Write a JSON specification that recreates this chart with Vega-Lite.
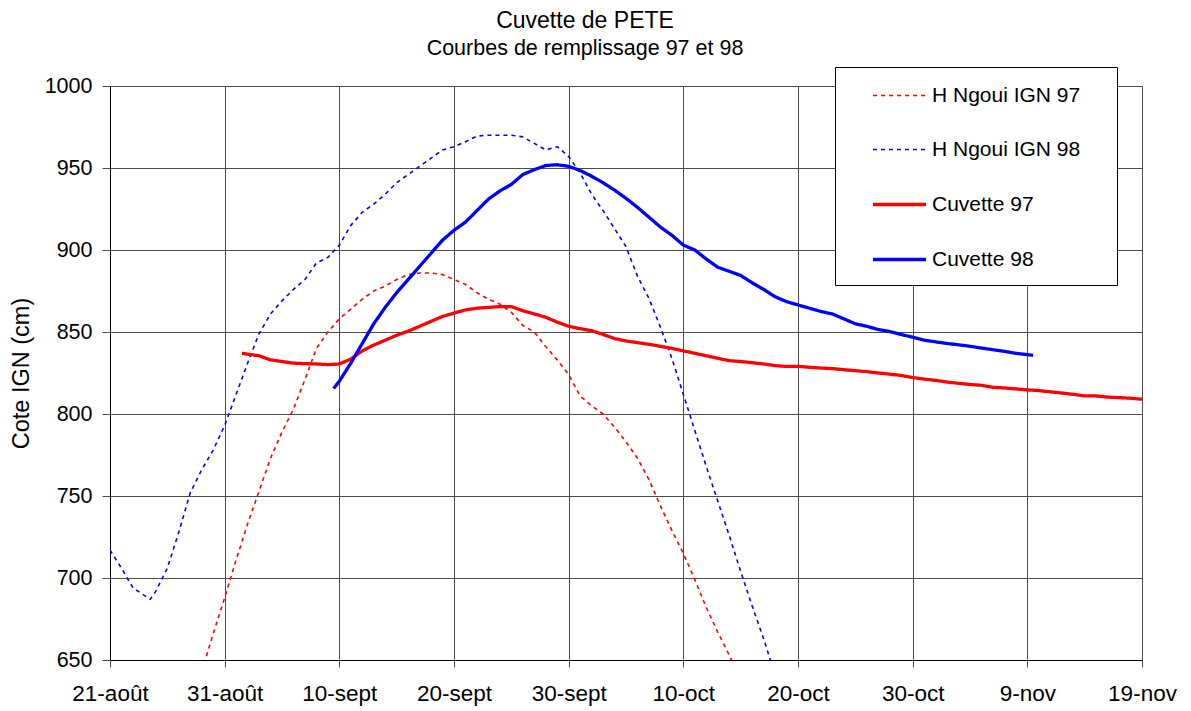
{
  "$schema": "https://vega.github.io/schema/vega-lite/v6.json",
  "width": 1032,
  "height": 574,
  "autosize": "none",
  "padding": {"left": 110, "top": 86, "right": 49, "bottom": 51},
  "background": "white",
  "config": {
    "font": "Liberation Sans",
    "view": {"stroke": null},
    "axis": {"labelFont": "Liberation Sans", "titleFont": "Liberation Sans", "labelColor": "black", "titleColor": "black", "titleFontWeight": "normal"},
    "legend": {"labelFont": "Liberation Sans", "labelColor": "black"}
  },
  "title": {
    "text": "Cuvette de PETE",
    "subtitle": "Courbes de remplissage 97 et 98",
    "font": "Liberation Sans",
    "subtitleFont": "Liberation Sans",
    "fontSize": 23,
    "fontWeight": "normal",
    "subtitleFontSize": 21.5,
    "color": "black",
    "subtitleColor": "black",
    "anchor": "middle",
    "dx": -41,
    "offset": 7,
    "subtitlePadding": 5
  },
  "data": {"values": [
    {"serie": "H Ngoui IGN 97", "date": "1998-08-29", "cote": 643},
    {"serie": "H Ngoui IGN 97", "date": "1998-08-30", "cote": 666},
    {"serie": "H Ngoui IGN 97", "date": "1998-08-31", "cote": 688},
    {"serie": "H Ngoui IGN 97", "date": "1998-09-01", "cote": 711},
    {"serie": "H Ngoui IGN 97", "date": "1998-09-02", "cote": 733},
    {"serie": "H Ngoui IGN 97", "date": "1998-09-03", "cote": 753},
    {"serie": "H Ngoui IGN 97", "date": "1998-09-04", "cote": 773},
    {"serie": "H Ngoui IGN 97", "date": "1998-09-05", "cote": 789},
    {"serie": "H Ngoui IGN 97", "date": "1998-09-06", "cote": 803},
    {"serie": "H Ngoui IGN 97", "date": "1998-09-07", "cote": 821},
    {"serie": "H Ngoui IGN 97", "date": "1998-09-08", "cote": 840},
    {"serie": "H Ngoui IGN 97", "date": "1998-09-09", "cote": 850},
    {"serie": "H Ngoui IGN 97", "date": "1998-09-10", "cote": 858},
    {"serie": "H Ngoui IGN 97", "date": "1998-09-11", "cote": 864},
    {"serie": "H Ngoui IGN 97", "date": "1998-09-12", "cote": 870},
    {"serie": "H Ngoui IGN 97", "date": "1998-09-13", "cote": 875},
    {"serie": "H Ngoui IGN 97", "date": "1998-09-14", "cote": 878},
    {"serie": "H Ngoui IGN 97", "date": "1998-09-15", "cote": 882},
    {"serie": "H Ngoui IGN 97", "date": "1998-09-16", "cote": 885},
    {"serie": "H Ngoui IGN 97", "date": "1998-09-17", "cote": 886},
    {"serie": "H Ngoui IGN 97", "date": "1998-09-18", "cote": 886},
    {"serie": "H Ngoui IGN 97", "date": "1998-09-19", "cote": 885},
    {"serie": "H Ngoui IGN 97", "date": "1998-09-20", "cote": 882},
    {"serie": "H Ngoui IGN 97", "date": "1998-09-21", "cote": 879},
    {"serie": "H Ngoui IGN 97", "date": "1998-09-22", "cote": 874},
    {"serie": "H Ngoui IGN 97", "date": "1998-09-23", "cote": 870},
    {"serie": "H Ngoui IGN 97", "date": "1998-09-24", "cote": 867},
    {"serie": "H Ngoui IGN 97", "date": "1998-09-25", "cote": 862},
    {"serie": "H Ngoui IGN 97", "date": "1998-09-26", "cote": 854},
    {"serie": "H Ngoui IGN 97", "date": "1998-09-27", "cote": 850},
    {"serie": "H Ngoui IGN 97", "date": "1998-09-28", "cote": 841},
    {"serie": "H Ngoui IGN 97", "date": "1998-09-29", "cote": 833},
    {"serie": "H Ngoui IGN 97", "date": "1998-09-30", "cote": 824},
    {"serie": "H Ngoui IGN 97", "date": "1998-10-01", "cote": 811},
    {"serie": "H Ngoui IGN 97", "date": "1998-10-02", "cote": 805},
    {"serie": "H Ngoui IGN 97", "date": "1998-10-03", "cote": 800},
    {"serie": "H Ngoui IGN 97", "date": "1998-10-04", "cote": 792},
    {"serie": "H Ngoui IGN 97", "date": "1998-10-05", "cote": 783},
    {"serie": "H Ngoui IGN 97", "date": "1998-10-06", "cote": 773},
    {"serie": "H Ngoui IGN 97", "date": "1998-10-07", "cote": 760},
    {"serie": "H Ngoui IGN 97", "date": "1998-10-08", "cote": 744},
    {"serie": "H Ngoui IGN 97", "date": "1998-10-09", "cote": 729},
    {"serie": "H Ngoui IGN 97", "date": "1998-10-10", "cote": 715},
    {"serie": "H Ngoui IGN 97", "date": "1998-10-11", "cote": 699},
    {"serie": "H Ngoui IGN 97", "date": "1998-10-12", "cote": 682},
    {"serie": "H Ngoui IGN 97", "date": "1998-10-13", "cote": 667},
    {"serie": "H Ngoui IGN 97", "date": "1998-10-14", "cote": 653},
    {"serie": "H Ngoui IGN 97", "date": "1998-10-15", "cote": 638},

    {"serie": "H Ngoui IGN 98", "date": "1998-08-21", "cote": 717},
    {"serie": "H Ngoui IGN 98", "date": "1998-08-22", "cote": 706},
    {"serie": "H Ngoui IGN 98", "date": "1998-08-23", "cote": 694},
    {"serie": "H Ngoui IGN 98", "date": "1998-08-24T12:00:00Z", "cote": 687},
    {"serie": "H Ngoui IGN 98", "date": "1998-08-25", "cote": 692},
    {"serie": "H Ngoui IGN 98", "date": "1998-08-26", "cote": 706},
    {"serie": "H Ngoui IGN 98", "date": "1998-08-27", "cote": 728},
    {"serie": "H Ngoui IGN 98", "date": "1998-08-28", "cote": 752},
    {"serie": "H Ngoui IGN 98", "date": "1998-08-29", "cote": 766},
    {"serie": "H Ngoui IGN 98", "date": "1998-08-30", "cote": 778},
    {"serie": "H Ngoui IGN 98", "date": "1998-08-31", "cote": 793},
    {"serie": "H Ngoui IGN 98", "date": "1998-09-01", "cote": 812},
    {"serie": "H Ngoui IGN 98", "date": "1998-09-02", "cote": 831},
    {"serie": "H Ngoui IGN 98", "date": "1998-09-03", "cote": 849},
    {"serie": "H Ngoui IGN 98", "date": "1998-09-04", "cote": 861},
    {"serie": "H Ngoui IGN 98", "date": "1998-09-05", "cote": 869},
    {"serie": "H Ngoui IGN 98", "date": "1998-09-06", "cote": 876},
    {"serie": "H Ngoui IGN 98", "date": "1998-09-07", "cote": 882},
    {"serie": "H Ngoui IGN 98", "date": "1998-09-08", "cote": 892},
    {"serie": "H Ngoui IGN 98", "date": "1998-09-09", "cote": 895.5},
    {"serie": "H Ngoui IGN 98", "date": "1998-09-10", "cote": 903},
    {"serie": "H Ngoui IGN 98", "date": "1998-09-11", "cote": 915},
    {"serie": "H Ngoui IGN 98", "date": "1998-09-12", "cote": 923},
    {"serie": "H Ngoui IGN 98", "date": "1998-09-13", "cote": 928},
    {"serie": "H Ngoui IGN 98", "date": "1998-09-14", "cote": 934},
    {"serie": "H Ngoui IGN 98", "date": "1998-09-15", "cote": 941},
    {"serie": "H Ngoui IGN 98", "date": "1998-09-16", "cote": 946},
    {"serie": "H Ngoui IGN 98", "date": "1998-09-17", "cote": 951},
    {"serie": "H Ngoui IGN 98", "date": "1998-09-18", "cote": 956},
    {"serie": "H Ngoui IGN 98", "date": "1998-09-19", "cote": 961},
    {"serie": "H Ngoui IGN 98", "date": "1998-09-20", "cote": 963},
    {"serie": "H Ngoui IGN 98", "date": "1998-09-21", "cote": 966},
    {"serie": "H Ngoui IGN 98", "date": "1998-09-22", "cote": 969.5},
    {"serie": "H Ngoui IGN 98", "date": "1998-09-23", "cote": 970},
    {"serie": "H Ngoui IGN 98", "date": "1998-09-24", "cote": 970},
    {"serie": "H Ngoui IGN 98", "date": "1998-09-25", "cote": 970},
    {"serie": "H Ngoui IGN 98", "date": "1998-09-26", "cote": 969},
    {"serie": "H Ngoui IGN 98", "date": "1998-09-27", "cote": 965},
    {"serie": "H Ngoui IGN 98", "date": "1998-09-28", "cote": 961},
    {"serie": "H Ngoui IGN 98", "date": "1998-09-29", "cote": 963},
    {"serie": "H Ngoui IGN 98", "date": "1998-09-30", "cote": 957},
    {"serie": "H Ngoui IGN 98", "date": "1998-10-01", "cote": 947},
    {"serie": "H Ngoui IGN 98", "date": "1998-10-02", "cote": 934},
    {"serie": "H Ngoui IGN 98", "date": "1998-10-03", "cote": 924},
    {"serie": "H Ngoui IGN 98", "date": "1998-10-04", "cote": 913},
    {"serie": "H Ngoui IGN 98", "date": "1998-10-05", "cote": 902},
    {"serie": "H Ngoui IGN 98", "date": "1998-10-06", "cote": 884},
    {"serie": "H Ngoui IGN 98", "date": "1998-10-07", "cote": 870.5},
    {"serie": "H Ngoui IGN 98", "date": "1998-10-08", "cote": 853},
    {"serie": "H Ngoui IGN 98", "date": "1998-10-09", "cote": 834},
    {"serie": "H Ngoui IGN 98", "date": "1998-10-10", "cote": 812},
    {"serie": "H Ngoui IGN 98", "date": "1998-10-11", "cote": 790},
    {"serie": "H Ngoui IGN 98", "date": "1998-10-12", "cote": 768},
    {"serie": "H Ngoui IGN 98", "date": "1998-10-13", "cote": 747},
    {"serie": "H Ngoui IGN 98", "date": "1998-10-14", "cote": 726},
    {"serie": "H Ngoui IGN 98", "date": "1998-10-15", "cote": 704},
    {"serie": "H Ngoui IGN 98", "date": "1998-10-16", "cote": 683},
    {"serie": "H Ngoui IGN 98", "date": "1998-10-17", "cote": 663},
    {"serie": "H Ngoui IGN 98", "date": "1998-10-18", "cote": 641},

    {"serie": "Cuvette 97", "date": "1998-09-01T12:00:00Z", "cote": 837},
    {"serie": "Cuvette 97", "date": "1998-09-02", "cote": 836.5},
    {"serie": "Cuvette 97", "date": "1998-09-03", "cote": 835.5},
    {"serie": "Cuvette 97", "date": "1998-09-04", "cote": 833},
    {"serie": "Cuvette 97", "date": "1998-09-05", "cote": 832},
    {"serie": "Cuvette 97", "date": "1998-09-06", "cote": 831},
    {"serie": "Cuvette 97", "date": "1998-09-07", "cote": 830.7},
    {"serie": "Cuvette 97", "date": "1998-09-08", "cote": 830.5},
    {"serie": "Cuvette 97", "date": "1998-09-09", "cote": 830.1},
    {"serie": "Cuvette 97", "date": "1998-09-10", "cote": 830.5},
    {"serie": "Cuvette 97", "date": "1998-09-11", "cote": 833.5},
    {"serie": "Cuvette 97", "date": "1998-09-12", "cote": 838.5},
    {"serie": "Cuvette 97", "date": "1998-09-13", "cote": 842},
    {"serie": "Cuvette 97", "date": "1998-09-14", "cote": 845},
    {"serie": "Cuvette 97", "date": "1998-09-15", "cote": 848},
    {"serie": "Cuvette 97", "date": "1998-09-16", "cote": 850.5},
    {"serie": "Cuvette 97", "date": "1998-09-17", "cote": 853.5},
    {"serie": "Cuvette 97", "date": "1998-09-18", "cote": 856.5},
    {"serie": "Cuvette 97", "date": "1998-09-19", "cote": 859.5},
    {"serie": "Cuvette 97", "date": "1998-09-20", "cote": 861.5},
    {"serie": "Cuvette 97", "date": "1998-09-21", "cote": 863.5},
    {"serie": "Cuvette 97", "date": "1998-09-22", "cote": 864.5},
    {"serie": "Cuvette 97", "date": "1998-09-23", "cote": 865},
    {"serie": "Cuvette 97", "date": "1998-09-24", "cote": 865.5},
    {"serie": "Cuvette 97", "date": "1998-09-25", "cote": 865.5},
    {"serie": "Cuvette 97", "date": "1998-09-26", "cote": 863},
    {"serie": "Cuvette 97", "date": "1998-09-27", "cote": 861},
    {"serie": "Cuvette 97", "date": "1998-09-28", "cote": 859},
    {"serie": "Cuvette 97", "date": "1998-09-29", "cote": 856},
    {"serie": "Cuvette 97", "date": "1998-09-30", "cote": 853.5},
    {"serie": "Cuvette 97", "date": "1998-10-01", "cote": 852},
    {"serie": "Cuvette 97", "date": "1998-10-02", "cote": 850.8},
    {"serie": "Cuvette 97", "date": "1998-10-03", "cote": 848.5},
    {"serie": "Cuvette 97", "date": "1998-10-04", "cote": 846},
    {"serie": "Cuvette 97", "date": "1998-10-05", "cote": 844.5},
    {"serie": "Cuvette 97", "date": "1998-10-06", "cote": 843.5},
    {"serie": "Cuvette 97", "date": "1998-10-07", "cote": 842.5},
    {"serie": "Cuvette 97", "date": "1998-10-08", "cote": 841.3},
    {"serie": "Cuvette 97", "date": "1998-10-09", "cote": 840},
    {"serie": "Cuvette 97", "date": "1998-10-10", "cote": 838.5},
    {"serie": "Cuvette 97", "date": "1998-10-11", "cote": 837},
    {"serie": "Cuvette 97", "date": "1998-10-12", "cote": 835.5},
    {"serie": "Cuvette 97", "date": "1998-10-13", "cote": 834},
    {"serie": "Cuvette 97", "date": "1998-10-14", "cote": 832.5},
    {"serie": "Cuvette 97", "date": "1998-10-15", "cote": 832},
    {"serie": "Cuvette 97", "date": "1998-10-16", "cote": 831.3},
    {"serie": "Cuvette 97", "date": "1998-10-17", "cote": 830.5},
    {"serie": "Cuvette 97", "date": "1998-10-18", "cote": 829.5},
    {"serie": "Cuvette 97", "date": "1998-10-19", "cote": 829},
    {"serie": "Cuvette 97", "date": "1998-10-20", "cote": 829.1},
    {"serie": "Cuvette 97", "date": "1998-10-21", "cote": 828.5},
    {"serie": "Cuvette 97", "date": "1998-10-22", "cote": 828},
    {"serie": "Cuvette 97", "date": "1998-10-23", "cote": 827.7},
    {"serie": "Cuvette 97", "date": "1998-10-24", "cote": 827},
    {"serie": "Cuvette 97", "date": "1998-10-25", "cote": 826.4},
    {"serie": "Cuvette 97", "date": "1998-10-26", "cote": 825.8},
    {"serie": "Cuvette 97", "date": "1998-10-27", "cote": 825},
    {"serie": "Cuvette 97", "date": "1998-10-28", "cote": 824.3},
    {"serie": "Cuvette 97", "date": "1998-10-29", "cote": 823.5},
    {"serie": "Cuvette 97", "date": "1998-10-30", "cote": 822.2},
    {"serie": "Cuvette 97", "date": "1998-10-31", "cote": 821.3},
    {"serie": "Cuvette 97", "date": "1998-11-01", "cote": 820.5},
    {"serie": "Cuvette 97", "date": "1998-11-02", "cote": 819.5},
    {"serie": "Cuvette 97", "date": "1998-11-03", "cote": 818.7},
    {"serie": "Cuvette 97", "date": "1998-11-04", "cote": 818},
    {"serie": "Cuvette 97", "date": "1998-11-05", "cote": 817.5},
    {"serie": "Cuvette 97", "date": "1998-11-06", "cote": 816.3},
    {"serie": "Cuvette 97", "date": "1998-11-07", "cote": 815.9},
    {"serie": "Cuvette 97", "date": "1998-11-08", "cote": 815.3},
    {"serie": "Cuvette 97", "date": "1998-11-09", "cote": 814.7},
    {"serie": "Cuvette 97", "date": "1998-11-10", "cote": 814.3},
    {"serie": "Cuvette 97", "date": "1998-11-11", "cote": 813.5},
    {"serie": "Cuvette 97", "date": "1998-11-12", "cote": 812.8},
    {"serie": "Cuvette 97", "date": "1998-11-13", "cote": 812},
    {"serie": "Cuvette 97", "date": "1998-11-14", "cote": 811},
    {"serie": "Cuvette 97", "date": "1998-11-15", "cote": 811},
    {"serie": "Cuvette 97", "date": "1998-11-16", "cote": 810.3},
    {"serie": "Cuvette 97", "date": "1998-11-17", "cote": 810},
    {"serie": "Cuvette 97", "date": "1998-11-18", "cote": 809.6},
    {"serie": "Cuvette 97", "date": "1998-11-19", "cote": 809},

    {"serie": "Cuvette 98", "date": "1998-09-09T12:00:00Z", "cote": 815.5},
    {"serie": "Cuvette 98", "date": "1998-09-10", "cote": 820},
    {"serie": "Cuvette 98", "date": "1998-09-11", "cote": 831},
    {"serie": "Cuvette 98", "date": "1998-09-12", "cote": 843},
    {"serie": "Cuvette 98", "date": "1998-09-13", "cote": 855},
    {"serie": "Cuvette 98", "date": "1998-09-14", "cote": 865},
    {"serie": "Cuvette 98", "date": "1998-09-15", "cote": 874},
    {"serie": "Cuvette 98", "date": "1998-09-16", "cote": 882},
    {"serie": "Cuvette 98", "date": "1998-09-17", "cote": 890},
    {"serie": "Cuvette 98", "date": "1998-09-18", "cote": 898},
    {"serie": "Cuvette 98", "date": "1998-09-19", "cote": 906},
    {"serie": "Cuvette 98", "date": "1998-09-20", "cote": 912},
    {"serie": "Cuvette 98", "date": "1998-09-21", "cote": 917},
    {"serie": "Cuvette 98", "date": "1998-09-22", "cote": 924},
    {"serie": "Cuvette 98", "date": "1998-09-23", "cote": 931},
    {"serie": "Cuvette 98", "date": "1998-09-24", "cote": 936},
    {"serie": "Cuvette 98", "date": "1998-09-25", "cote": 940},
    {"serie": "Cuvette 98", "date": "1998-09-26", "cote": 946},
    {"serie": "Cuvette 98", "date": "1998-09-27", "cote": 949},
    {"serie": "Cuvette 98", "date": "1998-09-28", "cote": 951.5},
    {"serie": "Cuvette 98", "date": "1998-09-29", "cote": 952},
    {"serie": "Cuvette 98", "date": "1998-09-30", "cote": 951},
    {"serie": "Cuvette 98", "date": "1998-10-01", "cote": 948.5},
    {"serie": "Cuvette 98", "date": "1998-10-02", "cote": 945},
    {"serie": "Cuvette 98", "date": "1998-10-03", "cote": 941},
    {"serie": "Cuvette 98", "date": "1998-10-04", "cote": 936.5},
    {"serie": "Cuvette 98", "date": "1998-10-05", "cote": 931.5},
    {"serie": "Cuvette 98", "date": "1998-10-06", "cote": 926},
    {"serie": "Cuvette 98", "date": "1998-10-07", "cote": 920},
    {"serie": "Cuvette 98", "date": "1998-10-08", "cote": 914},
    {"serie": "Cuvette 98", "date": "1998-10-09", "cote": 909},
    {"serie": "Cuvette 98", "date": "1998-10-10", "cote": 903},
    {"serie": "Cuvette 98", "date": "1998-10-11", "cote": 900},
    {"serie": "Cuvette 98", "date": "1998-10-12", "cote": 894.5},
    {"serie": "Cuvette 98", "date": "1998-10-13", "cote": 889.5},
    {"serie": "Cuvette 98", "date": "1998-10-14", "cote": 887},
    {"serie": "Cuvette 98", "date": "1998-10-15", "cote": 884.5},
    {"serie": "Cuvette 98", "date": "1998-10-16", "cote": 880},
    {"serie": "Cuvette 98", "date": "1998-10-17", "cote": 876},
    {"serie": "Cuvette 98", "date": "1998-10-18", "cote": 871.5},
    {"serie": "Cuvette 98", "date": "1998-10-19", "cote": 868.5},
    {"serie": "Cuvette 98", "date": "1998-10-20", "cote": 866.5},
    {"serie": "Cuvette 98", "date": "1998-10-21", "cote": 864.5},
    {"serie": "Cuvette 98", "date": "1998-10-22", "cote": 862.5},
    {"serie": "Cuvette 98", "date": "1998-10-23", "cote": 861},
    {"serie": "Cuvette 98", "date": "1998-10-24", "cote": 858},
    {"serie": "Cuvette 98", "date": "1998-10-25", "cote": 855},
    {"serie": "Cuvette 98", "date": "1998-10-26", "cote": 853.5},
    {"serie": "Cuvette 98", "date": "1998-10-27", "cote": 851.5},
    {"serie": "Cuvette 98", "date": "1998-10-28", "cote": 850.3},
    {"serie": "Cuvette 98", "date": "1998-10-29", "cote": 848.5},
    {"serie": "Cuvette 98", "date": "1998-10-30", "cote": 846.8},
    {"serie": "Cuvette 98", "date": "1998-10-31", "cote": 845},
    {"serie": "Cuvette 98", "date": "1998-11-01", "cote": 844},
    {"serie": "Cuvette 98", "date": "1998-11-02", "cote": 843},
    {"serie": "Cuvette 98", "date": "1998-11-03", "cote": 842.2},
    {"serie": "Cuvette 98", "date": "1998-11-04", "cote": 841.3},
    {"serie": "Cuvette 98", "date": "1998-11-05", "cote": 840.2},
    {"serie": "Cuvette 98", "date": "1998-11-06", "cote": 839.2},
    {"serie": "Cuvette 98", "date": "1998-11-07", "cote": 838.2},
    {"serie": "Cuvette 98", "date": "1998-11-08", "cote": 837},
    {"serie": "Cuvette 98", "date": "1998-11-09", "cote": 836.2},
    {"serie": "Cuvette 98", "date": "1998-11-09T12:00:00Z", "cote": 835.8}
  ]},
  "mark": {"type": "line", "clip": true, "strokeJoin": "round", "strokeCap": "butt"},
  "encoding": {
    "x": {
      "field": "date",
      "type": "temporal",
      "scale": {
        "type": "utc",
        "domain": [
          {"year": 1998, "month": 8, "date": 21, "utc": true},
          {"year": 1998, "month": 11, "date": 19, "utc": true}
        ]
      },
      "axis": {
        "title": null,
        "values": [
          {"year": 1998, "month": 8, "date": 21, "utc": true},
          {"year": 1998, "month": 8, "date": 31, "utc": true},
          {"year": 1998, "month": 9, "date": 10, "utc": true},
          {"year": 1998, "month": 9, "date": 20, "utc": true},
          {"year": 1998, "month": 9, "date": 30, "utc": true},
          {"year": 1998, "month": 10, "date": 10, "utc": true},
          {"year": 1998, "month": 10, "date": 20, "utc": true},
          {"year": 1998, "month": 10, "date": 30, "utc": true},
          {"year": 1998, "month": 11, "date": 9, "utc": true},
          {"year": 1998, "month": 11, "date": 19, "utc": true}
        ],
        "labelExpr": "utcdate(datum.value) + '-' + ['janv','févr','mars','avr','mai','juin','juil','août','sept','oct','nov','déc'][utcmonth(datum.value)]",
        "grid": true,
        "gridColor": "#4d4d4d",
        "gridWidth": 1,
        "gridOpacity": 1,
        "domainColor": "black",
        "domainWidth": 1,
        "tickColor": "#4d4d4d",
        "tickSize": 7,
        "labelPadding": 15,
        "labelFontSize": 22.5,
        "labelOverlap": false,
        "labelFlush": false
      }
    },
    "y": {
      "field": "cote",
      "type": "quantitative",
      "scale": {"domain": [650, 1000], "nice": false, "zero": false},
      "axis": {
        "title": "Cote IGN (cm)",
        "format": "d",
        "values": [650, 700, 750, 800, 850, 900, 950, 1000],
        "grid": true,
        "gridColor": "#4d4d4d",
        "gridWidth": 1,
        "gridOpacity": 1,
        "domainColor": "black",
        "domainWidth": 1,
        "tickColor": "#4d4d4d",
        "tickSize": 8,
        "labelPadding": 10,
        "labelFontSize": 21.5,
        "titleFontSize": 23.5,
        "titlePadding": 11,
        "labelFlush": false
      }
    },
    "color": {
      "field": "serie",
      "type": "nominal",
      "scale": {
        "domain": ["H Ngoui IGN 97", "H Ngoui IGN 98", "Cuvette 97", "Cuvette 98"],
        "range": ["#ff0000", "#0000ff", "#ff0000", "#0000ff"]
      },
      "legend": {
        "title": "\u200b",
        "titleOrient": "bottom",
        "titleFontSize": 11,
        "titlePadding": 3,
        "orient": "none",
        "legendX": 725,
        "legendY": -19,
        "fillColor": "white",
        "strokeColor": "black",
        "padding": 1,
        "symbolType": "stroke",
        "symbolSize": 2809,
        "symbolOffset": 35,
        "labelOffset": 4,
        "labelFontSize": 21,
        "labelLimit": 400,
        "rowPadding": 16,
        "labelExpr": "datum.label + '\u00a0\u00a0\u00a0\u00a0\u00a0\u00a0\u200b'"
      }
    },
    "strokeDash": {
      "field": "serie",
      "type": "nominal",
      "scale": {
        "domain": ["H Ngoui IGN 97", "H Ngoui IGN 98", "Cuvette 97", "Cuvette 98"],
        "range": [[4, 4], [4, 4], [1, 0], [1, 0]]
      }
    },
    "strokeWidth": {
      "field": "serie",
      "type": "nominal",
      "scale": {
        "type": "ordinal",
        "domain": ["H Ngoui IGN 97", "H Ngoui IGN 98", "Cuvette 97", "Cuvette 98"],
        "range": [1.6, 1.6, 3.3, 3.3]
      }
    }
  }
}
